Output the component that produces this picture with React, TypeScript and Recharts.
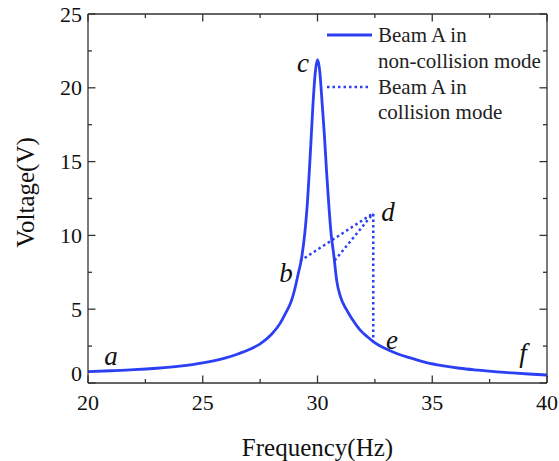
import React from "react";
import { ComposedChart, Line, Scatter, XAxis, YAxis, Legend } from "recharts";

// readings
const freqHz = [20, 21, 22, 23, 24, 25, 26, 26.5, 27, 27.5, 28, 28.37, 28.6, 28.87, 29, 29.16, 29.3, 29.45, 29.55, 29.7, 29.8, 29.9, 30, 30.1, 30.2, 30.3, 30.4, 30.5, 30.6, 30.7, 30.84, 31, 31.27, 31.5, 31.85, 32.2, 32.43, 33, 33.45, 34, 34.75, 35.5, 36.2, 37, 37.7, 38.5, 39.2, 40];
const voltNonCollision = [0.77, 0.83, 0.9, 1.0, 1.14, 1.36, 1.7, 1.95, 2.25, 2.65, 3.3, 4.04, 4.7, 5.6, 6.3, 7.4, 8.4, 10.2, 12.0, 15.9, 18.8, 21.0, 21.9, 21.1, 19.0, 16.8, 14.2, 11.9, 10.0, 8.8, 6.9, 5.85, 4.95, 4.35, 3.6, 3.1, 2.8, 2.3, 2.0, 1.72, 1.38, 1.16, 1.0, 0.87, 0.77, 0.68, 0.61, 0.54];

const sweepUpFreq = [29.24, 32.43, 32.43];
const sweepUpVolt = [8.27, 11.5, 2.75];
const sweepDownFreq = [30.75, 32.43];
const sweepDownVolt = [8.3, 11.5];

const pointNames = ["a", "b", "c", "d", "e", "f"];
const pointFreq = [21.0, 28.63, 29.37, 33.07, 33.25, 38.95];
const pointVolt = [1.83, 7.45, 21.7, 11.6, 2.9, 2.03];

const xTicks = [20, 22.5, 25, 27.5, 30, 32.5, 35, 37.5, 40];
const yTicks = [0, 2.5, 5, 7.5, 10, 12.5, 15, 17.5, 20, 22.5, 25];

const BLUE = "#2b3ff4";
const AXIS = "#333333";
const FONT = "'Liberation Serif', serif";

const mainData = freqHz.map((f, i) => ({ f, v: voltNonCollision[i] }));
const upData = sweepUpFreq.map((f, i) => ({ f, v: sweepUpVolt[i] }));
const downData = sweepDownFreq.map((f, i) => ({ f, v: sweepDownVolt[i] }));
const letterData = pointNames.map((name, i) => ({ f: pointFreq[i], v: pointVolt[i], name }));

const isMajor = (v: number) => v % 5 === 0;

const BottomTick = ({ x, y, payload }: any) => {
  const major = isMajor(payload.value);
  return (
    <g>
      <line x1={x} x2={x} y1={y} y2={y - (major ? 7.5 : 4)} stroke={AXIS} strokeWidth={1.3} />
      {major && (
        <text x={x} y={y + 27} textAnchor="middle" fontSize={22} style={{ fontFamily: FONT }} fill="#111">
          {payload.value}
        </text>
      )}
    </g>
  );
};

const TopTick = ({ x, y, payload }: any) => {
  const major = isMajor(payload.value);
  return <line x1={x} x2={x} y1={y} y2={y + (major ? 7.5 : 4)} stroke={AXIS} strokeWidth={1.3} />;
};

const LeftTick = ({ x, y, payload }: any) => {
  const major = isMajor(payload.value);
  const dy = payload.value === 0 ? -10 : 0;
  return (
    <g>
      <line x1={x} x2={x + (major ? 7.5 : 4)} y1={y} y2={y} stroke={AXIS} strokeWidth={1.3} />
      {major && (
        <text x={x - 6} y={y + dy + 7.5} textAnchor="end" fontSize={22} style={{ fontFamily: FONT }} fill="#111">
          {payload.value}
        </text>
      )}
    </g>
  );
};

const RightTick = ({ x, y, payload }: any) => {
  const major = isMajor(payload.value);
  return <line x1={x} x2={x - (major ? 7.5 : 4)} y1={y} y2={y} stroke={AXIS} strokeWidth={1.3} />;
};

const LetterShape = ({ cx, cy, payload }: any) => (
  <text x={cx} y={cy} textAnchor="middle" dominantBaseline="central" fontSize={27} fontStyle="italic" style={{ fontFamily: FONT }} fill="#111">
    {payload.name}
  </text>
);

const LegendBox = () => (
  <svg width={235} height={110} style={{ display: "block" }}>
    <g fontSize={21} fill="#222" style={{ fontFamily: FONT }}>
      <line x1={7} x2={52} y1={15} y2={15} stroke={BLUE} strokeWidth={2.8} />
      <text x={58} y={22}>Beam A in</text>
      <text x={58} y={48}>non-collision mode</text>
      <line x1={7} x2={48} y1={67} y2={67} stroke={BLUE} strokeWidth={2.5} strokeDasharray="2.5 3" />
      <text x={58} y={74}>Beam A in</text>
      <text x={58} y={99}>collision mode</text>
    </g>
  </svg>
);

export default function App() {
  return (
    <div style={{ position: "absolute", left: 0, top: 0, background: "#fff" }}>
      <ComposedChart width={559} height={461} margin={{ top: 13, right: 11, bottom: 0, left: 0 }}>
        <XAxis
          xAxisId={0}
          type="number"
          dataKey="f"
          domain={[20, 40]}
          ticks={xTicks}
          interval={0}
          allowDataOverflow
          height={78}
          tickSize={0}
          tickMargin={0}
          tickLine={false}
          tick={<BottomTick />}
          stroke={AXIS}
          strokeWidth={1.3}
          label={{
            content: ({ viewBox }: any) => (
              <text x={viewBox.x + viewBox.width / 2} y={viewBox.y + 73} textAnchor="middle" fontSize={25} style={{ fontFamily: FONT }} fill="#111">
                Frequency(Hz)
              </text>
            ),
          }}
        />
        <XAxis
          xAxisId="top"
          orientation="top"
          type="number"
          dataKey="f"
          domain={[20, 40]}
          ticks={xTicks}
          interval={0}
          allowDataOverflow
          height={1}
          tickSize={0}
          tickMargin={0}
          tickLine={false}
          tick={<TopTick />}
          stroke={AXIS}
          strokeWidth={1.3}
        />
        <YAxis
          yAxisId={0}
          type="number"
          domain={[0, 25]}
          ticks={yTicks}
          interval={0}
          allowDataOverflow
          width={88}
          tickSize={0}
          tickMargin={0}
          tickLine={false}
          tick={<LeftTick />}
          stroke={AXIS}
          strokeWidth={1.3}
          label={{
            content: ({ viewBox }: any) => {
              const cx = viewBox.x + 25;
              const cy = viewBox.y + viewBox.height / 2 - 6;
              return (
                <text x={cx} y={cy} transform={`rotate(-90, ${cx}, ${cy})`} textAnchor="middle" dominantBaseline="central" fontSize={25} style={{ fontFamily: FONT }} fill="#111">
                  Voltage(V)
                </text>
              );
            },
          }}
        />
        <YAxis
          yAxisId="right"
          orientation="right"
          type="number"
          domain={[0, 25]}
          ticks={yTicks}
          interval={0}
          allowDataOverflow
          width={1}
          tickSize={0}
          tickMargin={0}
          tickLine={false}
          tick={<RightTick />}
          stroke={AXIS}
          strokeWidth={1.3}
        />
        <Legend
          layout="vertical"
          align="center"
          verticalAlign="middle"
          content={<LegendBox />}
          wrapperStyle={{ left: 320, top: 20, width: 235, height: 110 }}
        />
        {/* invisible series so the mirrored frame axes get drawn */}
        <Line data={mainData} dataKey="v" xAxisId="top" yAxisId="right" stroke="none" dot={false} activeDot={false} legendType="none" isAnimationActive={false} />
        <Line data={mainData} dataKey="v" type="monotone" stroke={BLUE} strokeWidth={2.8} dot={false} isAnimationActive={false} />
        <Line data={upData} dataKey="v" type="linear" stroke={BLUE} strokeWidth={2.5} strokeDasharray="2.5 3" dot={false} isAnimationActive={false} />
        <Line data={downData} dataKey="v" type="linear" stroke={BLUE} strokeWidth={2.5} strokeDasharray="2.5 3" dot={false} isAnimationActive={false} />
        <Scatter data={letterData} dataKey="v" shape={<LetterShape />} isAnimationActive={false} />
      </ComposedChart>
    </div>
  );
}
